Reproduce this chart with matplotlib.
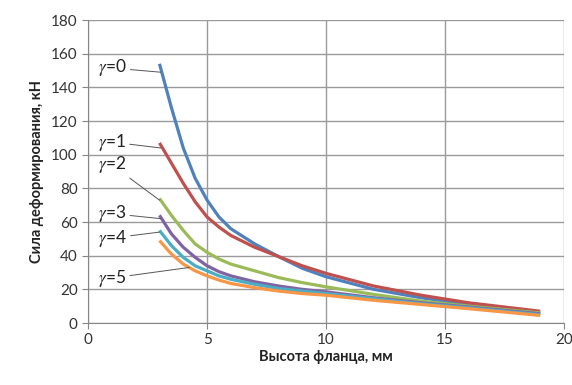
import matplotlib
matplotlib.use('Agg')
import matplotlib.pyplot as plt

plt.rcParams['font.family'] = ['Lato', 'DejaVu Sans']
plt.rcParams['mathtext.fontset'] = 'stix'

# данные
x = [3, 3.5, 4, 4.5, 5, 5.5, 6, 7, 8, 9, 10, 12, 14, 16, 19]
g0 = [154, 128, 104, 86, 73, 63, 56, 47, 39.5, 32.5, 27.5, 20, 15, 11, 6]
g1 = [107, 95, 83, 72, 63, 57, 52, 45, 39.5, 34, 29.5, 22, 16.5, 12, 7]
g2 = [74, 64, 55, 47, 42, 38, 35, 31, 27, 24, 21.5, 17, 13, 10, 6]
g3 = [64, 53, 45, 39, 34, 30.5, 28, 24.5, 22, 20, 18.5, 15, 12, 9.5, 5.5]
g4 = [55, 46, 39, 34, 31, 28, 26, 23, 20.5, 19, 17.5, 14.5, 11.5, 9, 5]
g5 = [49, 41, 35, 31, 28, 25.5, 23.5, 21, 19, 17.5, 16.5, 13.5, 11, 8.5, 4.5]
series = [g0, g1, g2, g3, g4, g5]
colors = ['#4F81BD', '#C0504D', '#9BBB59', '#8064A2', '#4BACC6', '#F79646']
labels = [r'$\gamma$=0', r'$\gamma$=1', r'$\gamma$=2', r'$\gamma$=3', r'$\gamma$=4', r'$\gamma$=5']
# положение подписей и точки, куда указывают выноски
label_pos = [(0.4, 151.5), (0.4, 107.5), (0.4, 94), (0.4, 65), (0.4, 50.5), (0.4, 26.7)]
arrow_to = [(3.05, 149), (3.05, 104), (3.0, 73), (3.05, 62), (3.0, 54), (4.25, 33)]

fig = plt.figure(figsize=(5.72, 3.85), dpi=100)
ax = fig.add_axes([0.154, 0.161, 0.832, 0.787])

for y, c in zip(series, colors):
    ax.plot(x, y, color=c, lw=2.3, solid_capstyle='butt', solid_joinstyle='round', zorder=3)

for lab, (tx, ty), (px, py) in zip(labels, label_pos, arrow_to):
    ax.annotate(lab, xy=(px, py), xytext=(tx, ty), fontsize=12.5, va='center', ha='left',
                color='#222222',
                arrowprops=dict(arrowstyle='-', color='#555555', lw=0.7, shrinkA=1, shrinkB=0),
                zorder=4)

ax.set_xlim(0, 20)
ax.set_ylim(0, 180)
ax.set_xticks([0, 5, 10, 15, 20])
ax.set_yticks(range(0, 181, 20))
ax.grid(True, color='#9a9a9a', lw=1.0)
for s in ['top', 'right']:
    ax.spines[s].set_visible(False)
for s in ['left', 'bottom']:
    ax.spines[s].set_color('#868686')
ax.tick_params(colors='#868686', labelcolor='#333333', labelsize=11, length=4, direction='out')

ax.set_xlabel('Высота фланца, мм', fontsize=10.5, fontweight='bold', color='#222222', labelpad=2)
ax.set_ylabel('Сила деформирования, кН', fontsize=10.5, fontweight='bold', color='#222222', labelpad=5)

plt.savefig('out.png', dpi=100)
